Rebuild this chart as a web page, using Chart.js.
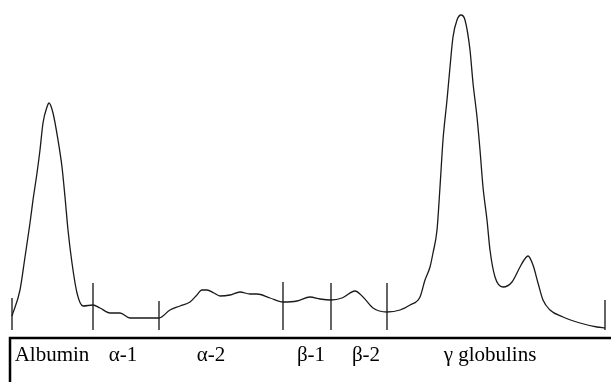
<!DOCTYPE html>
<html>
<head>
<meta charset="utf-8">
<script src="https://cdn.jsdelivr.net/npm/chart.js@4"></script>
<style>
  html, body { margin: 0; padding: 0; background: #fff; }
  #wrap { width: 611px; height: 382px; }
</style>
</head>
<body>
<div id="wrap"><canvas id="chart" width="611" height="382"></canvas></div>
<script>
// densitometer trace (migration position, optical density)
const migration = [12, 20, 25, 30, 33, 37, 40, 43, 47, 49, 53, 58, 62, 65, 68, 72, 77, 83, 93, 100,
    110, 120, 130, 140, 150, 159, 170, 180, 190, 196, 202, 207, 214, 220, 230, 240, 250, 257, 270, 283,
    297, 310, 320, 331, 342, 355, 363, 373, 387, 400, 410, 420, 425, 430, 433, 437, 440, 443, 447, 450,
    453, 457, 461, 465, 470, 473, 477, 480, 483, 487, 490, 495, 503, 512, 520, 524, 528, 533, 538, 543,
    550, 563, 580, 597, 605];
const density = [22, 48, 81, 115, 138, 165, 188, 215, 231, 235, 225, 198, 171, 141, 108, 75, 45, 32, 33, 30,
    25, 25, 20, 20, 20, 20, 28, 32, 36, 42, 48, 48, 45, 42, 43, 46, 44, 44, 40, 36,
    37, 41, 39, 38, 40, 47, 41, 30, 26, 28, 33, 41, 58, 71, 85, 108, 151, 198, 238, 271,
    301, 318, 323, 318, 288, 255, 221, 188, 151, 118, 88, 61, 51, 56, 71, 78, 82, 73, 55, 38,
    28, 21, 15, 11, 10];

// fraction boundaries
const dividerX = [12, 93, 159, 283, 331, 387, 605];
const dividerTop = [40, 55, 37, 56, 55, 55, 38];
const dividerBottom = 8;

// fraction labels and their centres
const fractionNames = ['Albumin', 'α-1', 'α-2', 'β-1', 'β-2', 'γ globulins'];
const fractionCentre = [52, 123, 211, 311, 366, 490];

const traceData = migration.map((x, i) => ({ x: x, y: density[i] }));

const dividerSets = dividerX.map((x, i) => ({
    data: [{ x: x, y: dividerBottom }, { x: x, y: dividerTop[i] }],
    borderColor: '#111',
    borderWidth: 1.3,
    pointRadius: 0,
    showLine: true,
    tension: 0
}));

const labelBox = {
    id: 'labelBox',
    afterDraw(chart) {
        const ctx = chart.ctx;
        const xs = chart.scales.x;
        const area = chart.chartArea;
        const left = xs.getPixelForValue(10);
        ctx.save();
        ctx.strokeStyle = '#000';
        ctx.lineWidth = 2.5;
        ctx.beginPath();
        ctx.moveTo(left, chart.height);
        ctx.lineTo(left, area.bottom);
        ctx.lineTo(chart.width, area.bottom);
        ctx.stroke();
        ctx.fillStyle = '#000';
        ctx.font = '21px "Liberation Serif", "DejaVu Serif", serif';
        ctx.textAlign = 'center';
        ctx.textBaseline = 'alphabetic';
        fractionNames.forEach((name, i) => {
            ctx.fillText(name, xs.getPixelForValue(fractionCentre[i]), area.bottom + 23);
        });
        ctx.restore();
    }
};

new Chart(document.getElementById('chart').getContext('2d'), {
    type: 'scatter',
    data: {
        datasets: [{
            data: traceData,
            borderColor: '#1a1a1a',
            borderWidth: 1.3,
            pointRadius: 0,
            showLine: true,
            cubicInterpolationMode: 'monotone',
            clip: false
        }].concat(dividerSets)
    },
    options: {
        responsive: false,
        animation: false,
        layout: { padding: { top: 0, bottom: 44, left: 0, right: 0 } },
        plugins: { legend: { display: false }, tooltip: { enabled: false } },
        scales: {
            x: { type: 'linear', min: 0, max: 611, display: false },
            y: { type: 'linear', min: 0, max: 338, display: false }
        }
    },
    plugins: [labelBox]
});
</script>
</body>
</html>
